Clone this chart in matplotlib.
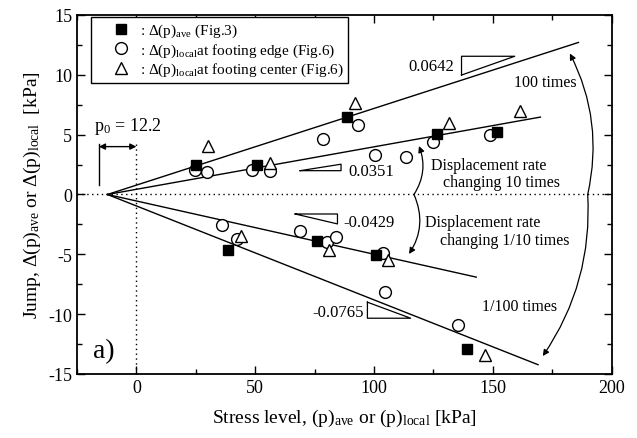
import matplotlib
matplotlib.use('Agg')
import matplotlib.pyplot as plt
from matplotlib.ticker import MultipleLocator
from matplotlib.lines import Line2D

# - - - Fonts - - - #
plt.rcParams['font.family'] = ['Liberation Serif', 'DejaVu Serif']
plt.rcParams['mathtext.fontset'] = 'custom'
plt.rcParams['mathtext.rm'] = 'Liberation Serif'
plt.rcParams['mathtext.it'] = 'Liberation Serif:italic'
plt.rcParams['axes.unicode_minus'] = False

# - - - Data - - - #
ave_x = [25, 50.7, 88.5, 126.5, 151.8, 38.5, 75.8, 100.7, 139]
ave_y = [2.5, 2.45, 6.5, 5.05, 5.25, -4.65, -3.85, -5.05, -12.95]

edge_x = [24.8, 29.7, 48.6, 56, 78.7, 93.4, 100.4, 113.5, 125, 148.7,
          36, 42.3, 68.9, 80.1, 84, 103.6, 104.6, 135.4]
edge_y = [2.07, 1.85, 2.07, 2.0, 4.64, 5.83, 3.3, 3.15, 4.36, 4.97,
          -2.55, -3.72, -3.08, -3.94, -3.52, -4.9, -8.17, -10.9]

center_x = [30, 56, 92, 131.6, 161.3, 44, 81.1, 106, 146.6]
center_y = [4.08, 2.65, 7.64, 5.97, 7.0, -3.44, -4.6, -5.45, -13.4]

p0 = -12.2
fit_slopes = [0.0641, 0.0355, -0.0445, -0.0785]
fit_xend = [186, 170, 143, 169]
slope_labels = ['0.0642', '0.0351', '-0.0429', '-0.0765']

# - - - Figure - - - #
fig = plt.figure(figsize=(6.37, 4.39), dpi=100)
ax = fig.add_axes([0.1209, 0.1458, 0.8394, 0.8178])

# fit lines through p0
for s, xe in zip(fit_slopes, fit_xend):
    ax.plot([p0, xe], [0, s * (xe - p0)], color='k', lw=1, zorder=2)

# reference dotted lines
ax.axhline(0, color='k', lw=1, ls=(0, (1, 2.5)), zorder=1)
ax.plot([0, 0], [4.2, -15], color='k', lw=1, ls=(0, (1, 2.5)), zorder=1)

# markers
ax.plot(ave_x, ave_y, 's', ms=7.5, color='k', zorder=4)
ax.plot(edge_x, edge_y, 'o', ms=8.5, mfc='white', mec='k', mew=1, zorder=3)
ax.plot(center_x, center_y, '^', ms=9, mfc='white', mec='k', mew=1, zorder=3)

# - - - Legend - - - #
handles = [
    Line2D([], [], ls='', marker='s', ms=7.5, color='k'),
    Line2D([], [], ls='', marker='o', ms=8.5, mfc='white', mec='k'),
    Line2D([], [], ls='', marker='^', ms=9, mfc='white', mec='k'),
]
labels = [r': $\Delta$(p)$_\mathrm{ave}$ (Fig.3)',
          r': $\Delta$(p)$_\mathrm{local}$at footing edge (Fig.6)',
          r': $\Delta$(p)$_\mathrm{local}$at footing center (Fig.6)']
leg = ax.legend(handles, labels, loc='upper left', bbox_to_anchor=(0.026, 0.994),
                borderaxespad=0, fontsize=11, fancybox=False, framealpha=1,
                edgecolor='k', handletextpad=-0.4, borderpad=0.3,
                labelspacing=0.15, handlelength=3.3)
leg.get_frame().set_linewidth(1)

# - - - p0 marker - - - #
ax.plot([-15.8, -15.8], [0.8, 4.2], color='k', lw=1)
ax.annotate('', xy=(0, 4.0), xytext=(-15.8, 4.0),
            arrowprops=dict(arrowstyle='<|-|>', color='k', lw=1,
                            shrinkA=0, shrinkB=0, mutation_scale=9))
ax.text(-18, 5.75, r'p$_0$ = 12.2', fontsize=13, va='center', ha='left')

# - - - Slope triangles - - - #
ax.plot([136.8, 136.8, 159.2, 136.8], [9.98, 11.55, 11.55, 9.98], color='k', lw=0.9)
ax.text(133.6, 10.76, slope_labels[0], fontsize=12, ha='right', va='center')

ax.plot([68.9, 86.1, 86.1, 68.9], [1.99, 1.99, 2.53, 1.99], color='k', lw=0.9)
ax.text(89.2, 2.0, slope_labels[1], fontsize=12, ha='left', va='center')

ax.plot([66.8, 84.6, 84.6, 66.8], [-1.63, -1.63, -2.46, -1.63], color='k', lw=0.9)
ax.text(87.1, -2.33, slope_labels[2], fontsize=12, ha='left', va='center')

ax.plot([97.2, 97.2, 115.4, 97.2], [-9.0, -10.34, -10.34, -9.0], color='k', lw=0.9)
ax.text(95.8, -9.85, slope_labels[3], fontsize=12, ha='right', va='center')

# - - - Rate change annotations - - - #
ax.text(172, 9.42, '100 times', fontsize=11.5, ha='center', va='center')
ax.text(123.8, 2.49, 'Displacement rate', fontsize=11.5, ha='left', va='center')
ax.text(128.8, 1.07, 'changing 10 times', fontsize=11.5, ha='left', va='center')
ax.text(121.4, -2.33, 'Displacement rate', fontsize=11.5, ha='left', va='center')
ax.text(127.8, -3.8, 'changing 1/10 times', fontsize=11.5, ha='left', va='center')
ax.text(161.3, -9.29, '1/100 times', fontsize=11.5, ha='center', va='center')

arrow_kw = dict(arrowstyle='-|>', color='k', lw=0.9, shrinkA=0, shrinkB=0,
                mutation_scale=9)
ax.annotate('', xy=(118.9, 4.05), xytext=(116.8, 0),
            arrowprops=dict(connectionstyle='arc3,rad=0.25', **arrow_kw))
ax.annotate('', xy=(114.7, -4.97), xytext=(116.8, 0),
            arrowprops=dict(connectionstyle='arc3,rad=-0.27', **arrow_kw))
ax.annotate('', xy=(182.4, 11.78), xytext=(189.9, 0),
            arrowprops=dict(connectionstyle='arc3,rad=0.18', **arrow_kw))
ax.annotate('', xy=(171, -13.5), xytext=(189.9, 0),
            arrowprops=dict(connectionstyle='arc3,rad=-0.17', **arrow_kw))

ax.text(-18.2, -13.05, 'a)', fontsize=20, ha='left', va='center')

# - - - Axes - - - #
ax.set_xlim(-25, 200)
ax.set_ylim(-15, 15)
ax.xaxis.set_major_locator(MultipleLocator(50))
ax.xaxis.set_minor_locator(MultipleLocator(25))
ax.yaxis.set_major_locator(MultipleLocator(5))
ax.yaxis.set_minor_locator(MultipleLocator(2.5))
ax.tick_params(which='both', direction='in', top=True, right=True, labelsize=13)
ax.tick_params(which='major', length=6, width=1)
ax.tick_params(which='minor', length=3.5, width=1)
for sp in ax.spines.values():
    sp.set_linewidth(1.3)

ax.set_xlabel(r'Stress level, (p)$_\mathrm{ave}$ or (p)$_\mathrm{local}$ [kPa]',
              fontsize=14, labelpad=8)
ax.set_ylabel(r'Jump, $\Delta$(p)$_\mathrm{ave}$ or $\Delta$(p)$_\mathrm{local}$  [kPa]',
              fontsize=14, labelpad=4)

fig.savefig('out.png', dpi=100)
